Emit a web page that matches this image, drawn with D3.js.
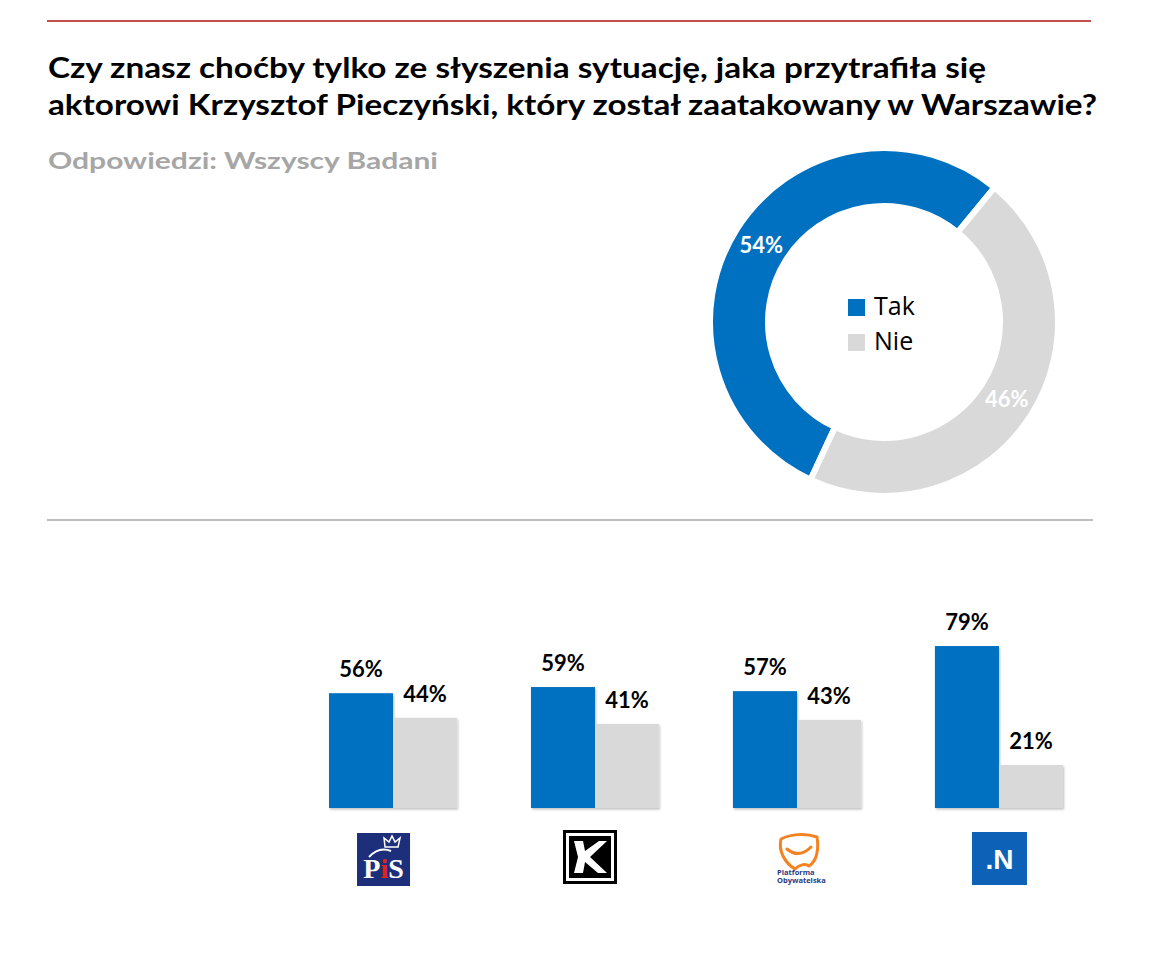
<!DOCTYPE html>
<html>
<head>
<meta charset="utf-8">
<script src="https://cdn.jsdelivr.net/npm/d3@7"></script>
<style>
  html, body { margin: 0; padding: 0; background: #fff; }
  svg { display: block; }
</style>
</head>
<body>
<svg id="chart" width="1160" height="964"></svg>
<script>
// ---- data ----
const titleLines = [
  "Czy znasz choćby tylko ze słyszenia sytuację, jaka przytrafiła się",
  "aktorowi Krzysztof Pieczyński, który został zaatakowany w Warszawie?"
];
const subtitle = "Odpowiedzi: Wszyscy Badani";
const answers = ["Tak", "Nie"];
const totalValues = [54, 46];
const parties = ["PiS", "Kukiz'15", "PO", ".N"];
const takValues = [56, 59, 57, 79];
const nieValues = [44, 41, 43, 21];

// ---- styles ----
const BLUE = "#0070C0", GRAY = "#D9D9D9";
const colors = d3.scaleOrdinal().domain(answers).range([BLUE, GRAY]);
const FONT = "Lato, 'Open Sans', sans-serif";

const svg = d3.select("#chart");
const defs = svg.append("defs");
const f = defs.append("filter").attr("id", "shadow").attr("x", "-10%").attr("y", "-10%").attr("width", "130%").attr("height", "130%");
f.append("feDropShadow").attr("dx", 1).attr("dy", 1.5).attr("stdDeviation", 1).attr("flood-color", "#000").attr("flood-opacity", 0.25);

// top red rule & separator
svg.append("line").attr("x1", 47).attr("x2", 1091).attr("y1", 21).attr("y2", 21)
  .attr("stroke", "#C0504D").attr("stroke-width", 2);
svg.append("line").attr("x1", 47).attr("x2", 1093).attr("y1", 520).attr("y2", 520)
  .attr("stroke", "#BFBFBF").attr("stroke-width", 2);

// title
const titleWidths = [938, 1049];
svg.selectAll("text.title").data(titleLines).join("text")
  .attr("class", "title")
  .attr("x", 48).attr("y", (d, i) => 78 + i * 37)
  .attr("font-family", FONT).attr("font-weight", 700).attr("font-size", 28)
  .attr("fill", "#000")
  .attr("textLength", (d, i) => titleWidths[i]).attr("lengthAdjust", "spacingAndGlyphs")
  .text(d => d);

svg.append("text").attr("x", 48).attr("y", 169)
  .attr("font-family", FONT).attr("font-weight", 700).attr("font-size", 23)
  .attr("fill", "#A6A6A6")
  .attr("textLength", 390).attr("lengthAdjust", "spacingAndGlyphs")
  .text(subtitle);

// ---- donut ----
const cx = 884, cy = 322, rOuter = 174, rInner = 116;
const deg = Math.PI / 180;
const pie = d3.pie().sort(null).startAngle(205 * deg).endAngle(565 * deg);
const arc = d3.arc().innerRadius(rInner).outerRadius(rOuter);
const labelArc = d3.arc().innerRadius((rInner + rOuter) / 2).outerRadius((rInner + rOuter) / 2);
const arcs = pie(totalValues);
const dg = svg.append("g").attr("transform", `translate(${cx},${cy})`);
dg.selectAll("path").data(arcs).join("path")
  .attr("d", arc)
  .attr("fill", (d, i) => colors(answers[i]))
  .attr("stroke", "#fff").attr("stroke-width", 6);
dg.selectAll("text").data(arcs).join("text")
  .attr("transform", d => `translate(${labelArc.centroid(d)})`)
  .attr("text-anchor", "middle").attr("dy", "0.36em")
  .attr("font-family", FONT).attr("font-weight", 700).attr("font-size", 22)
  .attr("fill", "#fff")
  .text(d => d.data + "%");

// legend in center
const lg = svg.append("g");
answers.forEach((a, i) => {
  const y = 299 + i * 35;
  lg.append("rect").attr("x", 848).attr("y", y).attr("width", 17).attr("height", 17).attr("fill", colors(a));
  lg.append("text").attr("x", 874).attr("y", y + 16)
    .attr("font-family", "'Open Sans', sans-serif").attr("font-size", 25).attr("fill", "#000")
    .text(a);
});

// ---- bars ----
const x = d3.scaleBand().domain(parties).range([329, 1063]).paddingInner(0.366).paddingOuter(0);
const xs = d3.scaleBand().domain(answers).range([0, x.bandwidth()]);
const y = d3.scaleLinear().domain([0, 100]).range([808, 603]);

const rows = parties.map((p, i) => ({ party: p, vals: [
  { key: "Tak", v: takValues[i] }, { key: "Nie", v: nieValues[i] }] }));

const groups = svg.selectAll("g.party").data(rows).join("g")
  .attr("class", "party").attr("transform", d => `translate(${x(d.party)},0)`);
groups.selectAll("rect").data(d => d.vals).join("rect")
  .attr("x", d => xs(d.key)).attr("width", xs.bandwidth())
  .attr("y", d => y(d.v)).attr("height", d => y(0) - y(d.v))
  .attr("fill", d => colors(d.key))
  .attr("filter", "url(#shadow)");
groups.selectAll("text").data(d => d.vals).join("text")
  .attr("x", d => xs(d.key) + xs.bandwidth() / 2)
  .attr("y", d => y(d.v) - 16)
  .attr("text-anchor", "middle")
  .attr("font-family", FONT).attr("font-weight", 700).attr("font-size", 22)
  .attr("fill", "#000")
  .text(d => d.v + "%");

// ---- party logos ----
function logoPiS(g, c) {
  const x0 = c - 36, y0 = 833;
  g.append("rect").attr("x", x0).attr("y", y0).attr("width", 53).attr("height", 53).attr("fill", "#1D2E7B");
  // crown
  g.append("path").attr("d", `M${x0+28},${y0+14} L${x0+27},${y0+5} L${x0+32},${y0+9} L${x0+35},${y0+3} L${x0+38},${y0+9} L${x0+43},${y0+5} L${x0+41},${y0+14} Z`)
    .attr("fill", "none").attr("stroke", "#fff").attr("stroke-width", 1.5);
  g.append("path").attr("d", `M${x0+12},${y0+24} Q${x0+22},${y0+13} ${x0+34},${y0+18}`)
    .attr("fill", "none").attr("stroke", "#fff").attr("stroke-width", 2);
  const t = g.append("text").attr("x", x0 + 26.5).attr("y", y0 + 45).attr("text-anchor", "middle")
    .attr("font-family", "'Liberation Serif', serif").attr("font-weight", 700).attr("font-size", 28).attr("fill", "#fff");
  t.append("tspan").text("P");
  t.append("tspan").attr("fill", "#E2231A").text("i");
  t.append("tspan").text("S");
}
function logoK(g, c) {
  const x0 = c - 32, y0 = 830;
  g.append("rect").attr("x", x0 + 1.5).attr("y", y0 + 1.5).attr("width", 51).attr("height", 51)
    .attr("fill", "#fff").attr("stroke", "#000").attr("stroke-width", 3);
  g.append("rect").attr("x", x0 + 6).attr("y", y0 + 6).attr("width", 42).attr("height", 42).attr("fill", "#000");
  g.append("path").attr("d", `M${x0+11},${y0+11} L${x0+20},${y0+11} L${x0+22},${y0+21} L${x0+36},${y0+11} L${x0+44},${y0+11} L${x0+27},${y0+27} L${x0+44},${y0+43} L${x0+35},${y0+43} L${x0+22},${y0+32} L${x0+20},${y0+43} L${x0+11},${y0+43} L${x0+15},${y0+27} Z`)
    .attr("fill", "#fff");
}
function logoPO(g, c) {
  const x0 = c - 22, y0 = 833;
  g.append("path").attr("d", `M${x0+6},${y0+6} C${x0+16},${y0+1} ${x0+30},${y0} ${x0+42},${y0+4} C${x0+44},${y0+16} ${x0+42},${y0+28} ${x0+34},${y0+33} C${x0+30},${y0+30} ${x0+24},${y0+32} ${x0+20},${y0+36} C${x0+10},${y0+30} ${x0+3},${y0+18} ${x0+6},${y0+6} Z`)
    .attr("fill", "none").attr("stroke", "#F58220").attr("stroke-width", 3).attr("stroke-linejoin", "round");
  g.append("path").attr("d", `M${x0+12},${y0+16} Q${x0+24},${y0+26} ${x0+36},${y0+14}`)
    .attr("fill", "none").attr("stroke", "#F58220").attr("stroke-width", 3).attr("stroke-linecap", "round");
  ["Platforma", "Obywatelska"].forEach((s, i) => {
    g.append("text").attr("x", x0 + 2).attr("y", y0 + 42 + i * 8)
      .attr("font-family", "'Open Sans', sans-serif").attr("font-weight", 700).attr("font-size", 7.5)
      .attr("fill", "#2B3A7E").text(s);
  });
}
function logoN(g, c) {
  const x0 = c - 27, y0 = 832;
  g.append("rect").attr("x", x0).attr("y", y0).attr("width", 55).attr("height", 53).attr("fill", "#0D62B8");
  g.append("text").attr("x", x0 + 27.5).attr("y", y0 + 37).attr("text-anchor", "middle")
    .attr("font-family", "'Liberation Sans', Arial, sans-serif").attr("font-weight", 700).attr("font-size", 28)
    .attr("fill", "#fff").text(".N");
}
const logoFns = [logoPiS, logoK, logoPO, logoN];
const lgs = svg.append("g");
parties.forEach((p, i) => logoFns[i](lgs, x(p) + x.bandwidth() / 2));
</script>
</body>
</html>
